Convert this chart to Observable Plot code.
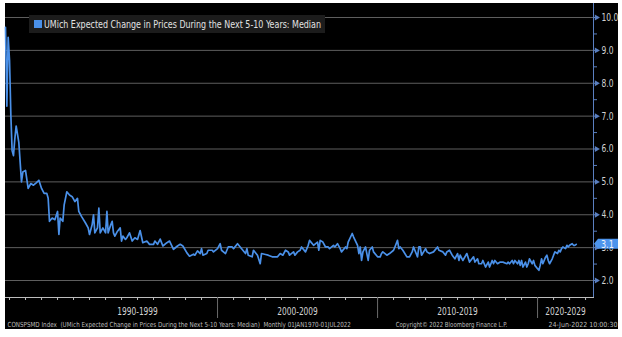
<!DOCTYPE html>
<html><head><meta charset="utf-8">
<script src="https://cdn.jsdelivr.net/npm/d3@7"></script>
<script src="https://cdn.jsdelivr.net/npm/@observablehq/plot@0.6"></script>
<style>
html,body{margin:0;padding:0;background:#fff;}
#chart{position:absolute;left:5px;top:3px;}
</style></head><body><div id="chart"></div>
<script>
const months = ["1986-10","1986-11","1986-12","1987-01","1987-02","1987-03","1987-04","1987-05","1987-06","1987-08","1987-10","1987-11","1988-01","1988-03","1988-05","1988-07","1988-09","1988-11","1989-01","1989-03","1989-05","1989-06","1989-07","1989-09","1989-11","1990-01","1990-02","1990-03","1990-05","1990-06","1990-08","1990-10","1990-12","1991-02","1991-04","1991-05","1991-07","1991-10","1991-12","1992-01","1992-03","1992-04","1992-05","1992-07","1992-08","1992-09","1992-11","1993-01","1993-02","1993-03","1993-05","1993-06","1993-07","1993-08","1993-10","1993-12","1994-01","1994-02","1994-04","1994-05","1994-07","1994-09","1994-11","1995-01","1995-03","1995-05","1995-08","1995-10","1996-01","1996-02","1996-04","1996-06","1996-08","1996-11","1997-01","1997-04","1997-07","1997-09","1997-11","1998-02","1998-04","1998-07","1998-08","1998-10","1998-12","1999-01","1999-02","1999-05","1999-06","1999-09","1999-10","2000-01","2000-03","2000-04","2000-07","2000-09","2000-12","2001-01","2001-04","2001-06","2001-08","2001-10","2001-11","2001-12","2002-03","2002-04","2002-07","2002-09","2002-10","2003-01","2003-03","2003-06","2003-10","2003-12","2004-02","2004-04","2004-06","2004-07","2004-10","2004-11","2005-01","2005-03","2005-04","2005-07","2005-09","2005-10","2006-01","2006-04","2006-05","2006-06","2006-08","2006-10","2006-12","2007-01","2007-04","2007-05","2007-07","2007-09","2007-10","2008-01","2008-02","2008-03","2008-06","2008-07","2008-10","2008-11","2008-12","2009-01","2009-02","2009-04","2009-05","2009-06","2009-07","2009-09","2009-10","2010-01","2010-03","2010-04","2010-05","2010-08","2010-10","2011-01","2011-02","2011-04","2011-05","2011-06","2011-08","2011-11","2012-01","2012-03","2012-04","2012-07","2012-08","2012-09","2012-10","2013-01","2013-02","2013-04","2013-07","2013-10","2013-11","2014-02","2014-04","2014-05","2014-07","2014-09","2014-11","2015-01","2015-02","2015-03","2015-05","2015-08","2015-10","2016-01","2016-02","2016-04","2016-05","2016-07","2016-08","2016-10","2016-12","2017-01","2017-03","2017-04","2017-05","2017-07","2017-09","2017-11","2018-02","2018-03","2018-04","2018-06","2018-07","2018-08","2018-10","2018-11","2018-12","2019-01","2019-02","2019-04","2019-05","2019-06","2019-07","2019-09","2019-10","2019-11","2020-01","2020-02","2020-03","2020-04","2020-05","2020-07","2020-08","2020-09","2020-10","2020-12","2021-01","2021-02","2021-04","2021-05","2021-06","2021-07","2021-08","2021-10","2021-11","2021-12","2022-01","2022-03","2022-04","2022-05","2022-06"];
const values = [9.7,7.3,9.4,8.7,7.0,5.95,5.8,6.3,6.7,6.2,5.0,5.3,5.35,4.8,4.95,4.9,4.97,5.05,4.8,4.65,4.65,4.5,3.8,3.9,3.85,4.1,3.4,3.9,3.8,4.3,4.7,4.6,4.55,4.4,4.5,4.1,3.95,3.75,3.6,3.4,3.7,4.0,3.45,3.6,4.2,3.45,3.6,3.45,4.1,3.45,3.7,3.8,3.45,3.35,3.5,3.6,3.2,3.35,3.25,3.3,3.45,3.2,3.3,3.25,3.52,3.15,3.2,3.1,3.1,3.2,3.1,3.26,3.05,3.15,3.2,2.95,3.05,3.1,3.05,2.84,2.74,2.8,2.77,2.9,2.82,2.97,2.77,2.82,2.92,2.92,2.87,2.97,3.12,2.92,2.82,3.02,3.02,2.97,3.12,3.02,2.92,2.82,2.97,2.77,2.72,2.92,2.77,2.51,2.82,2.79,2.77,2.72,2.72,2.82,2.77,2.92,2.87,2.77,2.87,2.77,2.87,2.92,3.02,2.87,3.07,3.22,3.07,3.17,2.92,3.22,3.17,3.02,3.02,2.97,3.07,3.02,3.12,2.97,2.87,3.02,2.97,3.17,3.43,3.33,3.07,2.82,3.02,2.61,2.87,3.02,2.82,2.61,2.92,3.02,2.87,2.72,2.72,2.82,2.87,2.77,2.82,2.92,3.02,3.22,2.97,3.02,2.92,2.72,2.72,2.87,3.02,2.72,3.02,3.02,2.77,2.97,2.87,2.82,2.87,3.02,2.92,2.87,2.77,2.87,2.92,2.77,2.66,2.82,2.61,2.77,2.61,2.82,2.56,2.72,2.56,2.66,2.51,2.51,2.61,2.41,2.56,2.41,2.61,2.51,2.61,2.51,2.56,2.56,2.51,2.56,2.51,2.61,2.51,2.61,2.51,2.61,2.46,2.61,2.41,2.56,2.41,2.51,2.66,2.51,2.61,2.46,2.36,2.31,2.46,2.66,2.51,2.71,2.77,2.61,2.51,2.66,2.77,2.87,2.82,2.92,2.87,2.97,3.02,2.97,3.07,3.02,3.07,3.12,3.07,3.07,3.1];
const yTicks = [2,3,4,5,6,7,8,9,10];
const yMinor = [2.5,3.5,4.5,5.5,6.5,7.5,8.5,9.5];
const decadeLabels = ["1990-1999","2000-2009","2010-2019","2020-2029"];
const decadeStarts = [1990,2000,2010,2020];
const separatorYears = [2000,2010,2020];
const seriesName = "UMich Expected Change in Prices During the Next 5-10 Years: Median";
const footerLeft = "CONSPSMD Index  (UMich Expected Change in Prices During the Next 5-10 Years: Median)  Monthly 01JAN1970-01JUL2022";
const footerMid = "Copyright\u00A9 2022 Bloomberg Finance L.P.";
const footerRight = "24-Jun-2022 10:00:30";
const lastLabel = "3.1";

const parse = d3.utcParse("%Y-%m");
const data = months.map((m, i) => ({date: parse(m), value: values[i]}));
const xDomain = [parse("1986-10"), parse("2023-07")];
const yDomain = [1.483, 10.426];
const W = 613, H = 326;
const blue = "#4a90e8";
const axisBlue = "#5a7fc0";
const grey = "#d2d2d2";
const font = '"Liberation Sans Narrow","DejaVu Sans Condensed","Arial Narrow",sans-serif';

const yearTicks = d3.utcYears(parse("1987-01"), xDomain[1]);
const sepDates = separatorYears.map(y => new Date(Date.UTC(y, 0, 1)));
const labelDates = decadeStarts.map(y => {
  const a = Math.max(+new Date(Date.UTC(y, 0, 1)), +xDomain[0]);
  const b = Math.min(+new Date(Date.UTC(y + 10, 0, 1)), +xDomain[1]);
  return new Date((a + b) / 2);
});

const plot = Plot.plot({
  width: W, height: H,
  marginLeft: 0, marginRight: 25, marginTop: 0, marginBottom: 32,
  style: {background: "#000", color: grey, fontFamily: font, fontSize: "10px", overflow: "visible"},
  x: {type: "utc", domain: xDomain},
  y: {domain: yDomain},
  marks: [
    Plot.ruleY(yTicks, {stroke: "#5e5e5e", strokeWidth: 1}),
    Plot.line(data, {x: "date", y: "value", stroke: blue, strokeWidth: 1.7}),
    Plot.frame({anchor: "right", stroke: axisBlue}),
    Plot.frame({anchor: "bottom", stroke: "#bdbdbd"}),
    Plot.axisY(yMinor, {anchor: "right", tickSize: 3, tickFormat: () => "", stroke: axisBlue, label: null}),
    Plot.axisY(yTicks, {anchor: "right", tickSize: 3, tickFormat: () => "", stroke: axisBlue, label: null}),
    Plot.dot(yTicks, {y: d => d, frameAnchor: "right", symbol: "triangle", rotate: 90, r: 2.2, fill: axisBlue, dx: 3}),
    Plot.axisY(yTicks, {anchor: "right", tickSize: 0, tickPadding: 8, tickFormat: d => d.toFixed(1), fill: grey, fontSize: 10.5, label: null}),
    Plot.axisX(yearTicks, {tickSize: 3, tickFormat: () => "", stroke: "#bdbdbd", label: null}),
    Plot.axisX(sepDates, {tickSize: 21, tickFormat: () => "", stroke: "#6a6a6a", label: null}),
    Plot.text(decadeLabels, {x: (d, i) => labelDates[i], frameAnchor: "bottom", dy: 17, text: d => d, fill: grey, fontSize: 11}),
    Plot.text([footerLeft], {frameAnchor: "bottom-left", dx: 2, dy: 29, textAnchor: "start", fill: "#bdbdbd", fontSize: 7}),
    Plot.text([footerMid], {frameAnchor: "bottom", dx: 152, dy: 29, fill: "#bdbdbd", fontSize: 7}),
    Plot.text([footerRight], {frameAnchor: "bottom-right", dx: 24, dy: 29, textAnchor: "end", fill: "#bdbdbd", fontSize: 7})
  ]
});

const svg = d3.select(plot);
// legend
const lg = svg.append("g");
lg.append("rect").attr("x", 24).attr("y", 12).attr("width", 296).attr("height", 18).attr("fill", "#1c1c1c");
lg.append("rect").attr("x", 29).attr("y", 17).attr("width", 8).attr("height", 8).attr("fill", blue);
const legendText = lg.append("text").attr("x", 39).attr("y", 24.5).attr("fill", "#e2e2e2").attr("font-size", 10.5)
  .attr("text-anchor", "start").attr("font-family", font).text(seriesName);
// last value tag
const yLast = plot.scale("y").apply(values[values.length - 1]);
const xR = W - 25;
const tag = svg.append("g");
tag.append("path").attr("d", `M${xR + 1},${yLast} L${xR + 5},${yLast - 5} L${W},${yLast - 5} L${W},${yLast + 5} L${xR + 5},${yLast + 5} Z`).attr("fill", "#4d94ec");
const tagText = tag.append("text").attr("x", xR + 8).attr("y", yLast + 3.8).attr("fill", "#f2f4fa").attr("font-size", 10.5)
  .attr("text-anchor", "start").attr("font-family", font).text(lastLabel);

document.getElementById("chart").appendChild(plot);

// condense texts horizontally (Bloomberg's narrow terminal font)
function condense(sel, factor) {
  sel.each(function () {
    const len = this.getComputedTextLength();
    if (len > 0) {
      this.setAttribute("textLength", (len * factor).toFixed(1));
      this.setAttribute("lengthAdjust", "spacingAndGlyphs");
    }
  });
}
const allText = svg.selectAll("text");
condense(allText.filter(function () { return decadeLabels.includes(this.textContent); }), 0.75);
condense(allText.filter(function () { return yTicks.map(d => d.toFixed(1)).includes(this.textContent); }), 0.8);
condense(allText.filter(function () { return this.textContent === footerLeft; }), 0.89);
condense(allText.filter(function () { return this.textContent === footerMid; }), 0.86);
condense(legendText, 277 / Math.max(1, legendText.node().getComputedTextLength()));
condense(tagText, 0.85);
</script></body></html>
